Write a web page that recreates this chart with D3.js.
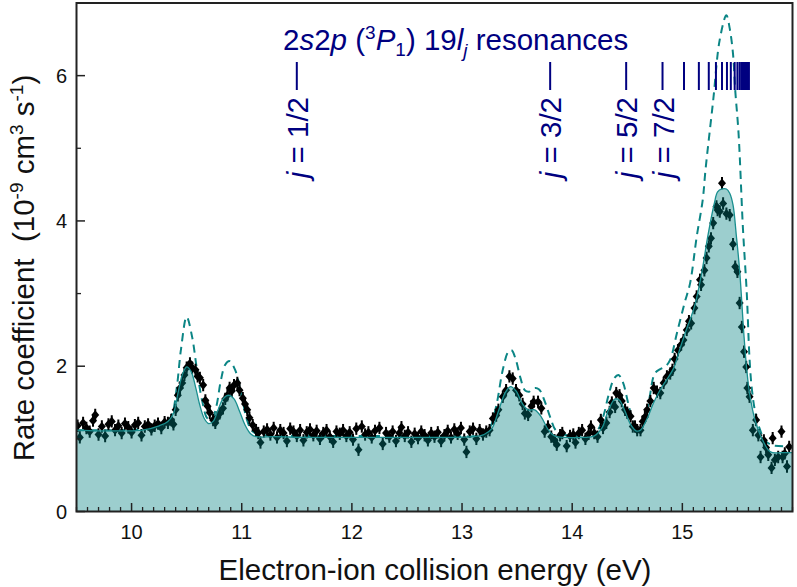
<!DOCTYPE html>
<html><head><meta charset="utf-8">
<script src="https://cdn.jsdelivr.net/npm/d3@7"></script>
<style>
body{margin:0;background:#fff}
svg{display:block}
text{font-family:"Liberation Sans",Arial,Helvetica,sans-serif}
</style>
</head><body>
<svg id="chart" width="797" height="587"></svg>
<script>
// ---- measured data (energy in eV, rate in 1e-9 cm^3 s^-1) ----
const pointE = [9.51,9.53,9.56,9.59,9.62,9.65,9.67,9.70,9.73,9.76,9.79,9.82,9.85,9.88,9.91,9.94,9.97,10.00,10.03,10.06,10.09,10.12,10.15,10.18,10.21,10.24,10.27,10.30,10.33,10.36,10.38,10.40,10.42,10.44,10.46,10.48,10.50,10.53,10.55,10.58,10.60,10.62,10.65,10.67,10.69,10.71,10.74,10.76,10.78,10.80,10.83,10.85,10.87,10.89,10.91,10.93,10.96,10.98,11.01,11.03,11.05,11.07,11.10,11.13,11.15,11.17,11.20,11.23,11.26,11.29,11.32,11.35,11.38,11.41,11.44,11.47,11.50,11.53,11.56,11.59,11.62,11.65,11.68,11.71,11.74,11.77,11.80,11.83,11.86,11.89,11.92,11.95,11.98,12.01,12.04,12.06,12.09,12.12,12.15,12.18,12.21,12.25,12.28,12.31,12.34,12.37,12.40,12.43,12.45,12.48,12.51,12.54,12.57,12.60,12.63,12.66,12.69,12.72,12.75,12.78,12.81,12.84,12.87,12.90,12.93,12.96,12.99,13.02,13.04,13.07,13.10,13.13,13.16,13.19,13.22,13.25,13.28,13.31,13.33,13.37,13.40,13.43,13.46,13.49,13.52,13.55,13.57,13.60,13.63,13.65,13.69,13.72,13.75,13.78,13.81,13.84,13.86,13.89,13.91,13.95,13.98,14.01,14.03,14.06,14.09,14.12,14.15,14.17,14.20,14.23,14.26,14.28,14.31,14.34,14.36,14.39,14.40,14.43,14.45,14.48,14.50,14.53,14.55,14.57,14.59,14.62,14.64,14.66,14.68,14.71,14.74,14.77,14.80,14.83,14.86,14.89,14.91,14.93,14.96,14.99,15.01,15.04,15.06,15.08,15.11,15.13,15.16,15.17,15.20,15.22,15.24,15.26,15.28,15.31,15.32,15.34,15.36,15.37,15.40,15.43,15.46,15.48,15.50,15.52,15.54,15.56,15.58,15.59,15.61,15.64,15.67,15.69,15.71,15.74,15.76,15.78,15.81,15.82,15.84,15.87,15.90,15.91,15.93,15.95,15.97];
const pointRate = [1.18,1.02,1.22,1.15,1.10,1.25,1.33,1.06,1.17,1.04,1.20,1.24,1.12,1.18,1.08,1.21,1.16,1.09,1.19,1.22,1.05,1.17,1.20,1.13,1.18,1.21,1.15,1.23,1.22,1.26,1.20,1.40,1.60,1.70,1.77,1.88,1.98,2.04,1.98,1.95,1.86,1.84,1.74,1.53,1.45,1.36,1.26,1.22,1.30,1.35,1.42,1.55,1.60,1.70,1.66,1.74,1.77,1.67,1.56,1.48,1.40,1.29,1.19,1.12,1.08,0.95,1.10,1.13,1.06,1.15,1.02,1.12,1.08,0.97,1.14,1.10,1.04,1.12,0.98,1.09,1.13,1.05,1.11,1.00,1.08,1.12,1.03,0.96,1.10,1.07,1.12,1.04,1.09,0.99,1.14,0.85,1.17,1.06,1.09,1.02,1.11,1.15,0.93,1.08,1.03,1.10,0.97,1.08,1.16,1.04,1.09,0.96,1.07,1.01,1.10,1.05,0.98,1.08,1.03,1.09,0.97,1.05,1.11,1.02,1.13,1.07,1.15,0.99,0.82,1.10,1.14,1.00,1.12,1.06,1.10,1.12,1.28,1.32,1.40,1.58,1.67,1.86,1.83,1.67,1.60,1.48,1.35,1.33,1.45,1.51,1.51,1.42,1.10,1.17,1.03,0.98,0.92,1.05,1.08,0.90,1.04,1.06,0.95,1.08,1.12,1.00,1.07,1.17,1.08,1.03,1.26,1.15,1.22,1.37,1.50,1.44,1.63,1.60,1.52,1.40,1.36,1.31,1.17,1.17,1.12,1.12,1.24,1.30,1.40,1.52,1.70,1.65,1.63,1.77,1.86,1.90,1.95,2.10,2.22,2.30,2.36,2.50,2.62,2.59,2.80,2.96,3.19,3.12,3.32,3.49,3.65,3.76,3.97,4.20,4.15,4.13,4.52,4.24,4.10,4.08,3.68,3.37,3.30,2.87,2.54,2.20,1.99,1.70,1.58,1.12,1.26,1.05,0.75,0.98,0.88,0.78,0.60,1.01,0.71,0.75,1.10,0.75,0.80,0.62,0.89];
const pointErr = 0.085;

// convolved theory (filled, solid)
const fitE = [9.50,9.70,9.90,10.10,10.25,10.33,10.38,10.42,10.46,10.50,10.54,10.58,10.62,10.66,10.70,10.74,10.78,10.83,10.88,10.93,10.98,11.03,11.08,11.13,11.30,11.60,12.00,12.40,12.80,13.10,13.20,13.27,13.33,13.39,13.44,13.49,13.55,13.60,13.66,13.72,13.78,13.84,13.95,14.10,14.20,14.27,14.33,14.39,14.43,14.48,14.53,14.58,14.62,14.68,14.74,14.80,14.86,14.92,14.98,15.04,15.08,15.12,15.18,15.23,15.29,15.32,15.36,15.40,15.43,15.46,15.49,15.52,15.56,15.585,15.61,15.66,15.73,15.80,15.90,16.00];
const fitRate = [1.12,1.11,1.11,1.12,1.18,1.24,1.35,1.62,1.88,1.99,1.93,1.72,1.46,1.28,1.21,1.24,1.38,1.55,1.60,1.55,1.38,1.19,1.07,1.03,1.03,1.02,1.02,1.02,1.02,1.03,1.06,1.14,1.38,1.63,1.72,1.66,1.48,1.40,1.40,1.30,1.13,1.04,1.02,1.02,1.04,1.15,1.40,1.55,1.53,1.38,1.20,1.11,1.12,1.28,1.50,1.68,1.82,1.97,2.25,2.52,2.68,2.88,3.32,3.78,4.24,4.40,4.44,4.44,4.38,4.22,3.80,3.32,2.41,1.95,1.63,1.26,0.98,0.82,0.81,0.81];

// alternate theory (dashed)
const dashE = [9.50,9.90,10.20,10.32,10.37,10.41,10.45,10.50,10.55,10.59,10.64,10.69,10.73,10.77,10.81,10.85,10.89,10.94,11.00,11.05,11.10,11.20,11.60,12.20,12.80,13.15,13.25,13.31,13.37,13.42,13.45,13.49,13.53,13.57,13.61,13.66,13.70,13.75,13.80,13.85,13.92,14.10,14.22,14.28,14.33,14.38,14.42,14.46,14.51,14.55,14.60,14.65,14.70,14.75,14.80,14.85,14.89,14.95,15.02,15.07,15.13,15.185,15.21,15.28,15.34,15.40,15.43,15.46,15.48,15.51,15.55,15.585,15.61,15.63,15.66,15.70,15.75,15.82,16.00];
const dashRate = [1.12,1.12,1.15,1.22,1.35,1.70,2.25,2.68,2.40,1.99,1.53,1.28,1.27,1.45,1.80,2.02,2.07,1.95,1.58,1.25,1.10,1.05,1.04,1.04,1.04,1.05,1.15,1.45,1.95,2.20,2.22,2.08,1.84,1.67,1.65,1.70,1.68,1.52,1.30,1.12,1.06,1.05,1.10,1.30,1.60,1.83,1.88,1.78,1.48,1.26,1.16,1.22,1.55,1.90,1.96,2.00,2.09,2.45,2.87,3.14,3.78,4.29,4.70,5.66,6.50,6.83,6.65,6.30,5.80,5.21,3.90,3.00,2.10,1.70,1.38,1.15,0.98,0.91,0.90];

// 2s2p(3P1) 19l_j resonance positions (eV)
const resonanceE = [11.50,13.80,14.49,14.82,15.015,15.15,15.24,15.305,15.36,15.405,15.44,15.475,15.50,15.52,15.535,15.55,15.56,15.57,15.578,15.585,15.59,15.595,15.60,15.604];
const jLabelE = [11.50,13.80,14.49,14.82];
const jLabels = ["1/2","3/2","5/2","7/2"];

const xMajor = [10,11,12,13,14,15];
const yMajor = [0,2,4,6];
const yMinor = [1,3,5];

// ---- layout ----
const W = 797, H = 587;
const m = {l:76.5, r:4.5, t:3, b:75.5};
const svg = d3.select("#chart");
const x = d3.scaleLinear().domain([9.5,16]).range([m.l, W-m.r]);
const y = d3.scaleLinear().domain([0,7]).range([H-m.b, m.t]);
const navy = "#000080", teal = "#008080";
const FS = 29.5;

svg.append("defs").append("clipPath").attr("id","clip")
  .append("rect").attr("x",m.l).attr("y",m.t).attr("width",W-m.l-m.r).attr("height",H-m.t-m.b);
const plot = svg.append("g").attr("clip-path","url(#clip)");

// dashed theory
const line = d3.line().curve(d3.curveCatmullRom.alpha(0.5));
plot.append("path")
  .attr("d", line(dashE.map((e,i)=>[x(e), y(dashRate[i])])))
  .attr("fill","none").attr("stroke","#0b8585").attr("stroke-width",2)
  .attr("stroke-dasharray","8,5.5");

// data points with error bars
const pts = plot.append("g");
pointE.forEach((e,i)=>{
  const v = pointRate[i];
  pts.append("line").attr("x1",x(e)).attr("x2",x(e))
    .attr("y1",y(v-pointErr)).attr("y2",y(v+pointErr))
    .attr("stroke","#000").attr("stroke-width",2);
});
pts.selectAll("path").data(pointE).join("path")
  .attr("transform",(e,i)=>`translate(${x(e)},${y(pointRate[i])})`)
  .attr("d", "M0,-4.6L4,0L0,4.6L-4,0Z")
  .attr("fill","#000");

// filled convolved theory
const fitPts = fitE.map((e,i)=>[x(e), y(fitRate[i])]);
const area = d3.area().x(d=>d[0]).y0(y(0)).y1(d=>d[1]).curve(d3.curveCatmullRom.alpha(0.5));
plot.append("path").attr("d", area(fitPts)).attr("fill",teal).attr("fill-opacity",0.39);
plot.append("path").attr("d", line(fitPts)).attr("fill","none")
  .attr("stroke","#1a8f8f").attr("stroke-width",1.3);

// resonance markers
const res = svg.append("g");
resonanceE.forEach(e=>{
  res.append("line").attr("x1",x(e)).attr("x2",x(e))
    .attr("y1",62).attr("y2",90).attr("stroke",navy).attr("stroke-width",2);
});
jLabelE.forEach((e,i)=>{
  const t = res.append("text")
    .attr("transform",`translate(${x(e)+11},97) rotate(-90)`)
    .attr("text-anchor","end").attr("fill",navy).attr("font-size",FS);
  t.append("tspan").attr("font-style","italic").text("j");
  t.append("tspan").text(" = " + jLabels[i]);
});

// title
const title = svg.append("text").attr("x",283).attr("y",50)
  .attr("fill",navy).attr("font-size",FS);
title.append("tspan").text("2");
title.append("tspan").attr("font-style","italic").text("s");
title.append("tspan").text("2");
title.append("tspan").attr("font-style","italic").text("p");
title.append("tspan").text(" (");
title.append("tspan").attr("font-size",19).attr("dy",-11).text("3");
title.append("tspan").attr("font-style","italic").attr("dy",11).text("P");
title.append("tspan").attr("font-size",19).attr("dy",6).text("1");
title.append("tspan").attr("dy",-6).text(") 19");
title.append("tspan").attr("font-style","italic").text("l");
title.append("tspan").attr("font-style","italic").attr("font-size",19).attr("dy",7).text("j");
title.append("tspan").attr("dy",-7).text(" resonances");

// axes frame
svg.append("rect").attr("x",m.l).attr("y",m.t).attr("width",W-m.l-m.r).attr("height",H-m.t-m.b)
  .attr("fill","none").attr("stroke","#222").attr("stroke-width",2);

// x ticks (inward)
const ax = svg.append("g");
const xMinor = d3.range(95,161).map(v=>v/10).filter(v=>!xMajor.includes(v));
xMinor.forEach(v=>{
  ax.append("line").attr("x1",x(v)).attr("x2",x(v)).attr("y1",y(0)).attr("y2",y(0)-4.5)
    .attr("stroke","#222").attr("stroke-width",1.3);
});
xMajor.forEach(v=>{
  ax.append("line").attr("x1",x(v)).attr("x2",x(v)).attr("y1",y(0)).attr("y2",y(0)-8.5)
    .attr("stroke","#222").attr("stroke-width",1.5);
  ax.append("text").attr("x",x(v)).attr("y",539).attr("text-anchor","middle")
    .attr("font-size",20).attr("fill","#111").text(v);
});
// y ticks (inward)
yMinor.forEach(v=>{
  ax.append("line").attr("x1",x(9.5)).attr("x2",x(9.5)+4.5).attr("y1",y(v)).attr("y2",y(v))
    .attr("stroke","#222").attr("stroke-width",1.3);
});
yMajor.forEach(v=>{
  ax.append("line").attr("x1",x(9.5)).attr("x2",x(9.5)+8.5).attr("y1",y(v)).attr("y2",y(v))
    .attr("stroke","#222").attr("stroke-width",1.5);
  ax.append("text").attr("x",67).attr("y",y(v)+7).attr("text-anchor","end")
    .attr("font-size",20).attr("fill","#111").text(v);
});

// axis titles
svg.append("text").attr("x",435).attr("y",580).attr("text-anchor","middle")
  .attr("font-size",FS).attr("fill","#111").text("Electron-ion collision energy (eV)");
const yl = svg.append("text").attr("transform","translate(34,268) rotate(-90)")
  .attr("text-anchor","middle").attr("font-size",FS).attr("fill","#111");
yl.append("tspan").text("Rate coefficient\u00a0\u00a0(10");
yl.append("tspan").attr("font-size",19).attr("dy",-11).text("-9");
yl.append("tspan").attr("dy",11).text(" cm");
yl.append("tspan").attr("font-size",19).attr("dy",-11).text("3");
yl.append("tspan").attr("dy",11).text(" s");
yl.append("tspan").attr("font-size",19).attr("dy",-11).text("-1");
yl.append("tspan").attr("dy",11).text(")");
</script>
</body></html>
